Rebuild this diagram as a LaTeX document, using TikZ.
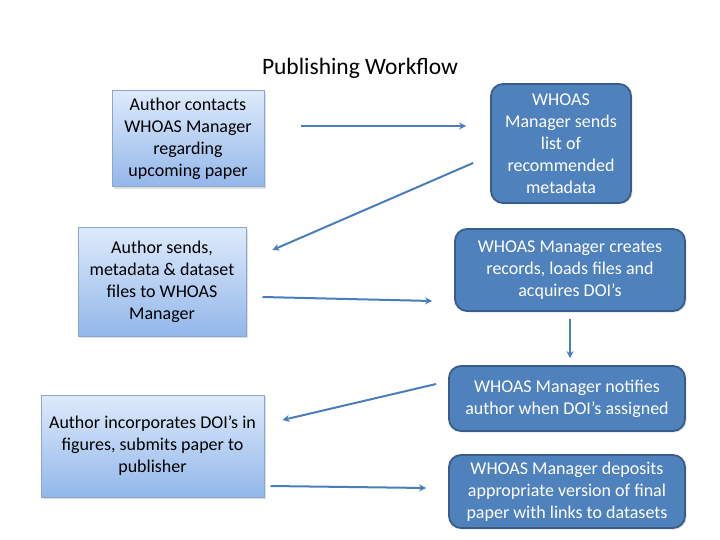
\documentclass[tikz,border=0pt]{standalone}
\usepackage{fontspec}
\setmainfont{Carlito}
\usetikzlibrary{arrows.meta,calc,shadows}
\definecolor{authtop}{RGB}{222,234,251}
\definecolor{authbot}{RGB}{146,183,234}
\definecolor{authline}{RGB}{140,165,205}
\definecolor{whoasfill}{RGB}{79,129,189}
\definecolor{whoasline}{RGB}{56,93,138}
\definecolor{flowcol}{RGB}{74,126,187}

\begin{document}
\begin{tikzpicture}[x=1pt,y=-1pt,>=Stealth,
    authbox/.style={draw=authline,line width=1pt,top color=authtop,bottom color=authbot,
      inner sep=0pt,align=center,text=black,font=\fontsize{18}{22}\selectfont,
      drop shadow={opacity=0.25,shadow xshift=2pt,shadow yshift=-2pt}},
    whoasbox/.style={draw=whoasline,line width=1.8pt,fill=whoasfill,rounded corners=12pt,
      inner sep=0pt,align=center,text=white,font=\fontsize{18}{22}\selectfont,
      drop shadow={opacity=0.2,shadow xshift=1.5pt,shadow yshift=-1.5pt}},
    flow/.style={draw=flowcol,line width=2pt,-{Stealth[length=7pt,width=7pt]}}]
  \useasboundingbox[fill=white] (0,0) rectangle (720,540);
  \node[font=\fontsize{23.5}{28}\selectfont] (title) at (360,68) {Publishing Workflow};
  % author side
  \node[authbox,minimum width=152pt,minimum height=96pt] (a1) at (188,139)
    {Author contacts\\WHOAS Manager\\regarding\\upcoming paper};
  \node[authbox,minimum width=168pt,minimum height=108pt] (a2) at (162,282)
    {Author sends,\\metadata \& dataset\\files to WHOAS\\Manager};
  \node[authbox,minimum width=223pt,minimum height=102pt] (a3) at (152.5,446)
    {Author incorporates DOI’s in\\figures, submits paper to\\publisher};
  % manager side
  \node[whoasbox,minimum width=140pt,minimum height=119pt] (m1) at (561,143.5)
    {WHOAS\\Manager sends\\list of\\recommended\\metadata};
  \node[whoasbox,minimum width=230pt,minimum height=82pt] (m2) at (570,270)
    {WHOAS Manager creates\\records, loads files and\\acquires DOI’s};
  \node[whoasbox,minimum width=236pt,minimum height=65pt] (m3) at (567,398.5)
    {WHOAS Manager notifies\\author when DOI’s assigned};
  \node[whoasbox,minimum width=236pt,minimum height=73pt] (m4) at (567,491.5)
    {WHOAS Manager deposits\\appropriate version of final\\paper with links to datasets};
  % connectors
  \draw[flow] ($(a1.east)+(36,-13)$) -- ($(m1.west)+(-24,-17.5)$);
  \draw[flow] ($(m1.west)+(-17,19.5)$) -- ($(a2.east)+(26,-32)$);
  \draw[flow] ($(a2.east)+(16,15)$) -- ($(m2.west)+(-22,31)$);
  \draw[flow] ($(m2.south)+(0,7)$) -- ($(m2.south |- m3.north)+(0,-7)$);
  \draw[flow] ($(m3.west)+(-12,-14.5)$) -- ($(a3.east)+(18,-26)$);
  \draw[flow] ($(a3.east)+(6,40)$) -- ($(m4.west)+(-22,-3.5)$);
\end{tikzpicture}
\end{document}
